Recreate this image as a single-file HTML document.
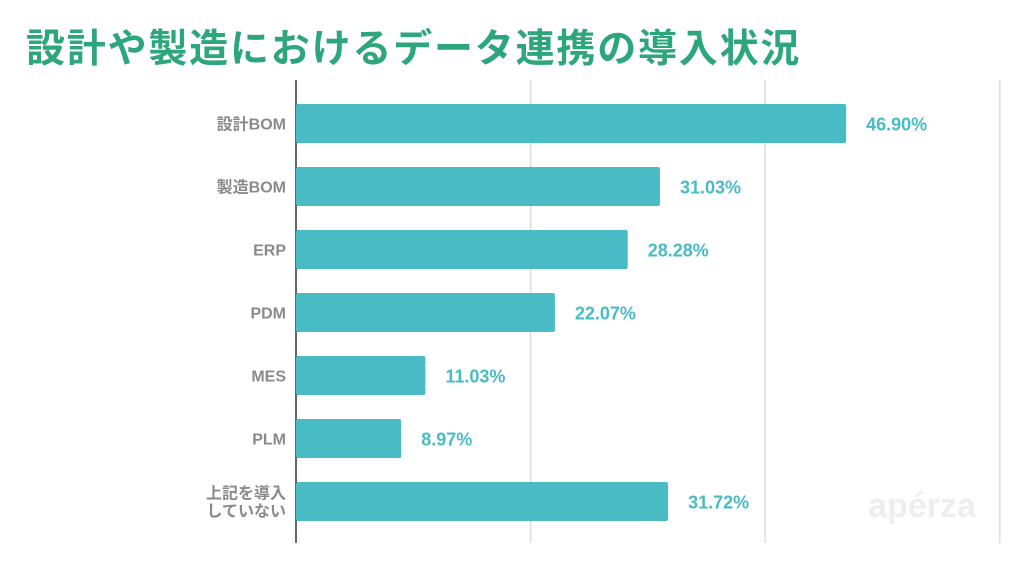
<!DOCTYPE html>
<html><head><meta charset="utf-8"><style>
body{margin:0;width:1024px;height:586px;background:#fff;overflow:hidden;font-family:"Liberation Sans","Noto Sans CJK JP",sans-serif}
#title{position:absolute;left:26px;top:18px;font-size:39px;font-weight:bold;color:#2ea67c;white-space:nowrap;letter-spacing:1.8px;font-family:"Liberation Sans","Noto Sans CJK JP",sans-serif}
</style></head><body>
<div id="title">設計や製造におけるデータ連携の導入状況</div>
<svg id="chart" width="1024" height="586" style="position:absolute;left:0;top:0"></svg>
<script>
const categories=["設計BOM","製造BOM","ERP","PDM","MES","PLM","上記を導入|していない"];
const values=[46.90,31.03,28.28,22.07,11.03,8.97,31.72];
const gridTicks=[20,40,60];
const NS="http://www.w3.org/2000/svg";
const svg=document.getElementById('chart');
const x0=296,pxPer=11.73;
const xs=v=>x0+v*pxPer;
const ys=i=>104+i*63;
const bh=39;
function mk(t,a){const e=document.createElementNS(NS,t);for(const k in a)e.setAttribute(k,a[k]);svg.appendChild(e);return e;}
gridTicks.forEach(t=>{
 const g=mk('line',{x1:xs(t),x2:xs(t),y1:80,y2:543,stroke:'#dcdcdc','stroke-width':1.5});
 
 
});
const ax=mk('line',{x1:x0,x2:x0,y1:80,y2:543,stroke:'#333','stroke-width':1.5});


const wm=mk('text',{x:922,y:517,'font-size':34,'font-weight':'bold',fill:'#eeeeee','text-anchor':'middle','font-family':'Liberation Sans, sans-serif'});
wm.textContent='apérza';


categories.forEach((c,i)=>{
 const y=ys(i);
 const r=mk('rect',{x:x0,y:y,width:xs(values[i])-x0,height:bh,fill:'#48bbc4',rx:2});
 
 
 const parts=c.split('|');
 parts.forEach((p,j)=>{
  const ty=y+bh/2+6+(parts.length>1?(j-0.5)*18:0);
  const t=mk('text',{x:286,y:ty,'text-anchor':'end','font-size':16,'font-weight':'bold',fill:'#8a8a8a','font-family':'Liberation Sans, Noto Sans CJK JP, sans-serif'});
  t.textContent=p;
  
  
 });
 const v=mk('text',{x:xs(values[i])+20,y:y+bh/2+7,'font-size':18,'font-weight':'bold',fill:'#48bbc4','font-family':'Liberation Sans, sans-serif'});
 v.textContent=values[i].toFixed(2)+'%';
 
 
});
</script>
</body></html>
